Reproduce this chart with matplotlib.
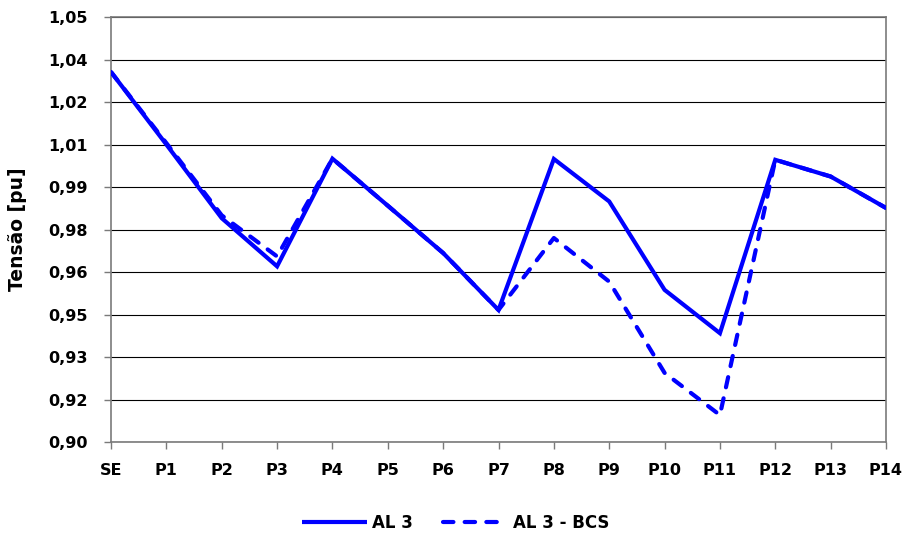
import numpy as np
import matplotlib
matplotlib.use("Agg")
import matplotlib.pyplot as plt

plt.rcParams['font.family'] = ['DejaVu Sans']

# categories along the feeder
points = ['SE', 'P1', 'P2', 'P3', 'P4', 'P5', 'P6', 'P7',
          'P8', 'P9', 'P10', 'P11', 'P12', 'P13', 'P14']

# voltage [pu]
al3 = [1.0306, 1.0050, 0.9790, 0.9620, 1.0000, 0.9834, 0.9667, 0.9466,
       0.9999, 0.9849, 0.9537, 0.9384, 0.9996, 0.9937, 0.9826]
al3_bcs = [1.0306, 1.0055, 0.9800, 0.9655, 1.0000, 0.9834, 0.9667, 0.9466,
           0.9720, 0.9566, 0.9244, 0.9095, 0.9996, 0.9937, 0.9826]

# y ticks (Excel axis 0,90 .. 1,05 with step 0,015)
y_ticks = [0.900, 0.915, 0.930, 0.945, 0.960, 0.975, 0.990, 1.005, 1.020, 1.035, 1.050]
y_labels = ['0,90', '0,92', '0,93', '0,95', '0,96', '0,98', '0,99', '1,01', '1,02', '1,04', '1,05']

fig = plt.figure(figsize=(9.09, 5.41), dpi=100)
ax = fig.add_axes([111 / 909, 99 / 541, 775 / 909, 425 / 541])

x = np.arange(len(points))
ax.plot(x, al3, color='#0000FF', lw=3.0, solid_joinstyle='miter', solid_capstyle='butt',
        label='AL 3', zorder=3)
ax.plot(x, al3_bcs, color='#0000FF', lw=3.0, linestyle=(0, (2.5, 2.7)),
        dash_capstyle='round', label='AL 3 - BCS', zorder=3)

ax.set_xlim(0, len(points) - 1)
ax.set_ylim(0.90, 1.05)
ax.set_xticks(x)
ax.set_xticklabels(points, fontweight='bold', fontsize=11.5)
ax.set_yticks(y_ticks)
ax.set_yticklabels(y_labels, fontweight='bold', fontsize=11.5)
ax.set_ylabel('Tensão [pu]', fontweight='bold', fontsize=13.5)
ax.yaxis.set_label_coords(-0.108, 0.5)

ax.yaxis.grid(True, color='#000000', lw=0.8)
ax.set_axisbelow(True)
for s in ax.spines.values():
    s.set_color('#7a7a7a')
    s.set_linewidth(1.2)
ax.tick_params(axis='both', direction='out', length=5, width=1.0, color='#7a7a7a')
ax.tick_params(axis='x', pad=10)
ax.tick_params(axis='y', pad=12)

fig.legend(loc='center', bbox_to_anchor=(0.501, 0.033), ncol=2, frameon=False,
           prop={'weight': 'bold', 'size': 12}, handlelength=3.9, columnspacing=1.8,
           handletextpad=0.3)

plt.savefig('out.png', dpi=100)
plt.close()
